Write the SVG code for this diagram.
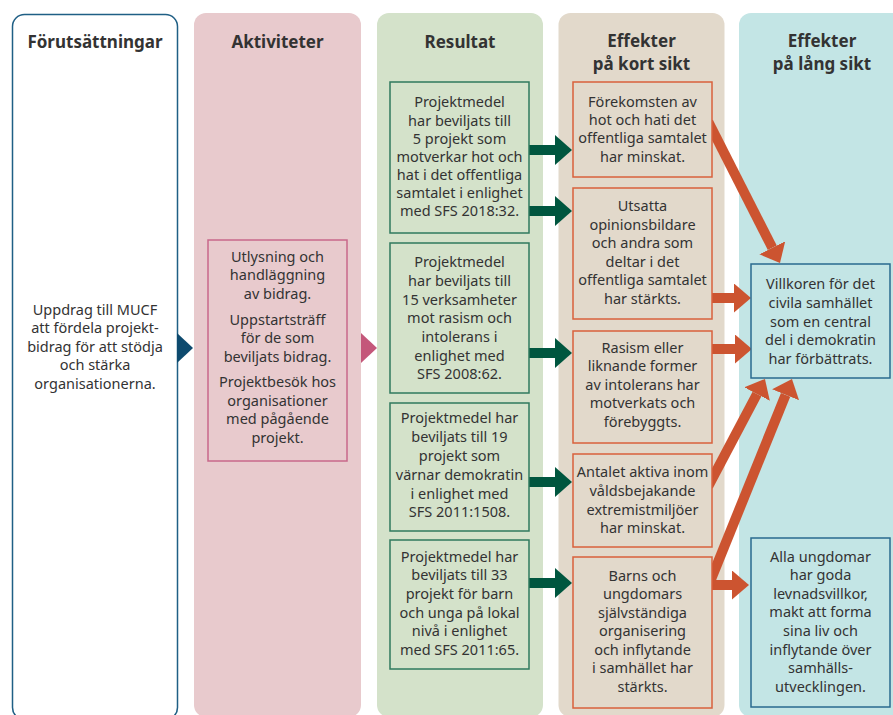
<svg xmlns="http://www.w3.org/2000/svg" width="893" height="715" viewBox="0 0 893 715">
<defs>
<style>
text{font-family:"Noto Sans","Open Sans","DejaVu Sans",sans-serif;fill:#333;text-anchor:middle}
.h{font-size:17px;font-weight:bold}
.t{font-size:14.5px}
.bp{fill:#e8cacd;stroke:#c8688a;stroke-width:1.5}
.bg{fill:#d4e2ca;stroke:#2f7a5e;stroke-width:1.5}
.bo{fill:#e2d9cb;stroke:#d9603c;stroke-width:1.5}
.bb{fill:#c3e5e5;stroke:#2a6a8e;stroke-width:1.5}
.ga{stroke:#00563f;stroke-width:10;fill:none}
.oa{stroke:#cc5430;stroke-width:10;fill:none}
</style>
<marker id="gh" viewBox="0 0 17 30" refX="0" refY="15" markerWidth="17" markerHeight="30" markerUnits="userSpaceOnUse" orient="auto"><path d="M0,0 L17,15 L0,30 Z" fill="#00563f"/></marker>
<marker id="oh" viewBox="0 0 17 29" refX="0" refY="14.5" markerWidth="17" markerHeight="29" markerUnits="userSpaceOnUse" orient="auto"><path d="M0,0 L17,14.5 L0,29 Z" fill="#cc5430"/></marker>
</defs>
<rect width="893" height="715" fill="#fff"/>
<g id="columns">
<rect x="12.5" y="14.5" width="165" height="705" rx="12" fill="#fff" stroke="#1f5f85" stroke-width="1.5"/>
<rect x="194" y="13" width="167" height="704" rx="12" fill="#e8cacd"/>
<rect x="377" y="13" width="166" height="704" rx="12" fill="#d4e2ca"/>
<rect x="558.5" y="13" width="166" height="704" rx="12" fill="#e2d9cb"/>
<rect x="739" y="13" width="170" height="704" rx="12" fill="#c3e5e5"/>
<text class="h" x="95" y="48">Förutsättningar</text>
<text class="h" x="277.5" y="48">Aktiviteter</text>
<text class="h" x="460" y="48">Resultat</text>
<text class="h" x="641.5" y="46.5">Effekter</text>
<text class="h" x="641.5" y="69.5">på kort sikt</text>
<text class="h" x="822" y="46.5">Effekter</text>
<text class="h" x="822" y="69.5">på lång sikt</text>
<path d="M177,333 L193,348 L177,363 Z" fill="#0d4a6e"/>
<path d="M361,333 L377,348 L361,363 Z" fill="#c4577a"/>
</g>
<g id="connectors">
<line class="ga" x1="529" y1="150" x2="555" y2="150" marker-end="url(#gh)"/>
<line class="ga" x1="529" y1="211" x2="555" y2="211" marker-end="url(#gh)"/>
<line class="ga" x1="529" y1="353" x2="555" y2="353" marker-end="url(#gh)"/>
<line class="ga" x1="529" y1="482" x2="555" y2="482" marker-end="url(#gh)"/>
<line class="ga" x1="529" y1="583" x2="555" y2="583" marker-end="url(#gh)"/>
<line class="oa" x1="710" y1="298" x2="734" y2="298" marker-end="url(#oh)"/>
<line class="oa" x1="710" y1="349" x2="735" y2="349" marker-end="url(#oh)"/>
<line class="oa" x1="710" y1="585" x2="732" y2="585" marker-end="url(#oh)"/>
<line class="oa" x1="708.4" y1="121.9" x2="772.3" y2="247.8" marker-end="url(#oh)"/>
<line class="oa" x1="708.3" y1="486.1" x2="757" y2="394" marker-end="url(#oh)"/>
<line class="oa" x1="709" y1="584.4" x2="785.6" y2="394.8" marker-end="url(#oh)"/>
</g>
<g id="n-forutsattningar">
<text class="t"><tspan x="95" y="314.5">Uppdrag till MUCF</tspan><tspan x="95" y="333">att fördela projekt-</tspan><tspan x="95" y="351.5">bidrag för att stödja</tspan><tspan x="95" y="370">och stärka</tspan><tspan x="95" y="388.5">organisationerna.</tspan></text>
</g>
<g id="n-aktiviteter">
<rect class="bp" x="208" y="240" width="139" height="221"/>
<text class="t"><tspan x="277.5" y="261.5">Utlysning och</tspan><tspan x="277.5" y="280">handläggning</tspan><tspan x="277.5" y="298.5">av bidrag.</tspan><tspan x="277.5" y="324.5">Uppstartsträff</tspan><tspan x="277.5" y="343">för de som</tspan><tspan x="277.5" y="361.5">beviljats bidrag.</tspan><tspan x="277.5" y="387">Projektbesök hos</tspan><tspan x="277.5" y="405.7">organisationer</tspan><tspan x="277.5" y="424.3">med pågående</tspan><tspan x="277.5" y="443">projekt.</tspan></text>
</g>
<g id="n-res1">
<rect class="bg" x="390" y="82" width="139" height="151"/>
<text class="t"><tspan x="459.5" y="107.3">Projektmedel</tspan><tspan x="459.5" y="125.5">har beviljats till</tspan><tspan x="459.5" y="143.6">5 projekt som</tspan><tspan x="459.5" y="161.8">motverkar hot och</tspan><tspan x="459.5" y="179.9">hat i det offentliga</tspan><tspan x="459.5" y="198">samtalet i enlighet</tspan><tspan x="459.5" y="216.2">med SFS 2018:32.</tspan></text>
</g>
<g id="n-res2">
<rect class="bg" x="390" y="243" width="139" height="150"/>
<text class="t"><tspan x="459.5" y="267.3">Projektmedel</tspan><tspan x="459.5" y="286">har beviljats till</tspan><tspan x="459.5" y="304.6">15 verksamheter</tspan><tspan x="459.5" y="323.3">mot rasism och</tspan><tspan x="459.5" y="342">intolerans i</tspan><tspan x="459.5" y="360.6">enlighet med</tspan><tspan x="459.5" y="379.3">SFS 2008:62.</tspan></text>
</g>
<g id="n-res3">
<rect class="bg" x="390" y="403" width="139" height="128"/>
<text class="t"><tspan x="459.5" y="423.3">Projektmedel har</tspan><tspan x="459.5" y="442.1">beviljats till 19</tspan><tspan x="459.5" y="460.9">projekt som</tspan><tspan x="459.5" y="479.7">värnar demokratin</tspan><tspan x="459.5" y="498.5">i enlighet med</tspan><tspan x="459.5" y="517.3">SFS 2011:1508.</tspan></text>
</g>
<g id="n-res4">
<rect class="bg" x="390" y="540" width="139" height="129"/>
<text class="t"><tspan x="459.5" y="561.7">Projektmedel har</tspan><tspan x="459.5" y="580.4">beviljats till 33</tspan><tspan x="459.5" y="599">projekt för barn</tspan><tspan x="459.5" y="617.7">och unga på lokal</tspan><tspan x="459.5" y="636.3">nivå i enlighet</tspan><tspan x="459.5" y="655">med SFS 2011:65.</tspan></text>
</g>
<g id="n-eff1">
<rect class="bo" x="573" y="82" width="139" height="95"/>
<text class="t"><tspan x="642.5" y="106.7">Förekomsten av</tspan><tspan x="642.5" y="125">hot och hati det</tspan><tspan x="642.5" y="143.3">offentliga samtalet</tspan><tspan x="642.5" y="161.7">har minskat.</tspan></text>
</g>
<g id="n-eff2">
<rect class="bo" x="573" y="188" width="139" height="131"/>
<text class="t"><tspan x="642.5" y="211">Utsatta</tspan><tspan x="642.5" y="229.5">opinionsbildare</tspan><tspan x="642.5" y="248">och andra som</tspan><tspan x="642.5" y="266.5">deltar i det</tspan><tspan x="642.5" y="285">offentliga samtalet</tspan><tspan x="642.5" y="303.5">har stärkts.</tspan></text>
</g>
<g id="n-eff3">
<rect class="bo" x="573" y="331" width="139" height="112"/>
<text class="t"><tspan x="642.5" y="352.7">Rasism eller</tspan><tspan x="642.5" y="371.2">liknande former</tspan><tspan x="642.5" y="389.7">av intolerans har</tspan><tspan x="642.5" y="408.2">motverkats och</tspan><tspan x="642.5" y="426.7">förebyggts.</tspan></text>
</g>
<g id="n-eff4">
<rect class="bo" x="573" y="454" width="139" height="93"/>
<text class="t"><tspan x="642.5" y="477.3">Antalet aktiva inom</tspan><tspan x="642.5" y="496">våldsbejakande</tspan><tspan x="642.5" y="514.7">extremistmiljöer</tspan><tspan x="642.5" y="533.3">har minskat.</tspan></text>
</g>
<g id="n-eff5">
<rect class="bo" x="573" y="557" width="139" height="151"/>
<text class="t"><tspan x="642.5" y="580.7">Barns och</tspan><tspan x="642.5" y="599.2">ungdomars</tspan><tspan x="642.5" y="617.7">självständiga</tspan><tspan x="642.5" y="636.2">organisering</tspan><tspan x="642.5" y="654.7">och inflytande</tspan><tspan x="642.5" y="673.2">i samhället har</tspan><tspan x="642.5" y="691.7">stärkts.</tspan></text>
</g>
<g id="n-long1">
<rect class="bb" x="751" y="264" width="139" height="114"/>
<text class="t"><tspan x="820.5" y="289.3">Villkoren för det</tspan><tspan x="820.5" y="308">civila samhället</tspan><tspan x="820.5" y="326.7">som en central</tspan><tspan x="820.5" y="345.3">del i demokratin</tspan><tspan x="820.5" y="364">har förbättrats.</tspan></text>
</g>
<g id="n-long2">
<rect class="bb" x="751" y="538" width="139" height="169"/>
<text class="t"><tspan x="820.5" y="561.7">Alla ungdomar</tspan><tspan x="820.5" y="580.3">har goda</tspan><tspan x="820.5" y="598.9">levnadsvillkor,</tspan><tspan x="820.5" y="617.4">makt att forma</tspan><tspan x="820.5" y="636">sina liv och</tspan><tspan x="820.5" y="654.6">inflytande över</tspan><tspan x="820.5" y="673.1">samhälls-</tspan><tspan x="820.5" y="691.7">utvecklingen.</tspan></text>
</g>
</svg>
